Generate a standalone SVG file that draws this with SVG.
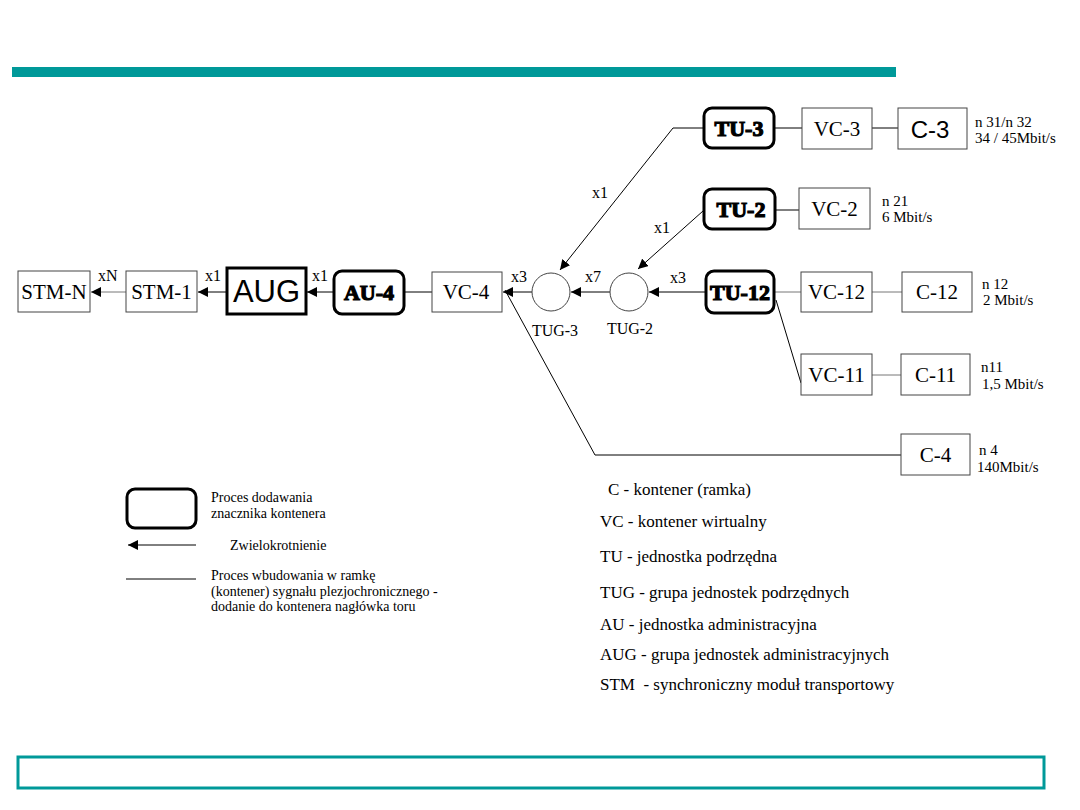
<svg xmlns="http://www.w3.org/2000/svg" width="1080" height="810" viewBox="0 0 1080 810">
<defs>
<style>
.box{fill:#fff;stroke:#444;stroke-width:1}
.thick{fill:#fff;stroke:#000;stroke-width:3}
.tu{fill:#fff;stroke:#000;stroke-width:3}
.lbl{font-family:"Liberation Serif",serif;font-size:21px;fill:#000;text-anchor:middle}
.heavy{font-family:"Liberation Serif",serif;font-weight:bold;font-size:22px;fill:#000;stroke:#000;stroke-width:1.2;text-anchor:middle}
.sm{font-family:"Liberation Serif",serif;font-size:16px;fill:#000}
.leg2{font-family:"Liberation Serif",serif;font-size:14px;fill:#000}
.note{font-family:"Liberation Serif",serif;font-size:15px;fill:#000}
.leg{font-family:"Liberation Serif",serif;font-size:17px;fill:#000}
.con{fill:none;stroke:#000;stroke-width:1}
.grey{fill:none;stroke:#777;stroke-width:1}
</style>
<marker id="ah" viewBox="0 0 10 10" refX="10" refY="5" markerWidth="10" markerHeight="10" markerUnits="userSpaceOnUse" orient="auto">
<path d="M0,0 L10,5 L0,10 z" fill="#000"/>
</marker>
</defs>
<rect width="1080" height="810" fill="#fff"/>
<rect x="12" y="67" width="884" height="10" fill="#009999"/>
<rect x="18" y="757" width="1026" height="31" fill="none" stroke="#009999" stroke-width="3"/>

<g id="connectors">
<line class="grey" x1="126" y1="292" x2="91" y2="292" marker-end="url(#ah)"/>
<line class="con" x1="226" y1="292" x2="198" y2="292" marker-end="url(#ah)"/>
<line class="con" x1="333" y1="292" x2="307" y2="292" marker-end="url(#ah)"/>
<line class="con" x1="404" y1="292" x2="432" y2="292"/>
<line class="con" x1="532" y1="292" x2="503" y2="292" marker-end="url(#ah)"/>
<line class="con" x1="610" y1="292" x2="571" y2="292" marker-end="url(#ah)"/>
<line class="con" x1="705" y1="292" x2="649" y2="292" marker-end="url(#ah)"/>
<polyline class="con" points="703,128 673,128 560,270" marker-end="url(#ah)"/>
<line class="con" x1="703" y1="211" x2="638" y2="269" marker-end="url(#ah)"/>
<line class="con" x1="774" y1="128" x2="802" y2="128"/>
<line class="con" x1="872" y1="128" x2="898" y2="128"/>
<line class="con" x1="775" y1="210" x2="799" y2="210"/>
<line class="grey" x1="774" y1="292" x2="801" y2="292"/>
<line class="grey" x1="872" y1="292" x2="902" y2="292"/>
<line class="con" x1="776" y1="300" x2="801" y2="383"/>
<line class="grey" x1="872" y1="375" x2="901" y2="375"/>
<polyline class="con" points="505,290 595,455 901,455"/>
<text class="sm" x="98" y="281">xN</text>
<text class="sm" x="205" y="281">x1</text>
<text class="sm" x="312" y="281">x1</text>
<text class="sm" x="511" y="282">x3</text>
<text class="sm" x="585" y="282">x7</text>
<text class="sm" x="670" y="283">x3</text>
<text class="sm" x="592" y="198">x1</text>
<text class="sm" x="654" y="233">x1</text>
</g>

<g id="stm-n"><rect class="box" x="18" y="271" width="72" height="41"/><text class="lbl" x="54" y="299">STM-N</text></g>
<g id="stm-1"><rect class="box" x="126" y="271" width="71" height="41"/><text class="lbl" x="161.5" y="299">STM-1</text></g>
<g id="aug"><rect class="thick" x="227" y="268" width="79" height="46"/><text x="266.5" y="302" font-family="Liberation Sans, sans-serif" font-size="31" text-anchor="middle">AUG</text></g>
<g id="au-4"><rect class="tu" x="334" y="271" width="70" height="43" rx="8"/><text class="heavy" x="369" y="300">AU-4</text></g>
<g id="vc-4"><rect class="box" x="432" y="272" width="70" height="40"/><text class="lbl" x="466" y="299">VC-4</text></g>
<g id="tug-3"><circle cx="551" cy="292" r="19" fill="#fff" stroke="#444"/><text class="sm" x="555" y="336" text-anchor="middle">TUG-3</text></g>
<g id="tug-2"><circle cx="629" cy="292" r="19" fill="#fff" stroke="#444"/><text class="sm" x="630" y="334" text-anchor="middle">TUG-2</text></g>
<g id="tu-12"><rect class="tu" x="706" y="271" width="68" height="42" rx="8"/><text class="heavy" x="740" y="300">TU-12</text></g>
<g id="vc-12"><rect class="box" x="801" y="272" width="71" height="40"/><text class="lbl" x="836.5" y="299">VC-12</text></g>
<g id="c-12"><rect class="box" x="902" y="272" width="70" height="40"/><text class="lbl" x="937" y="299">C-12</text></g>
<g id="tu-3"><rect class="tu" x="704" y="108" width="70" height="40" rx="8"/><text class="heavy" x="739" y="136">TU-3</text></g>
<g id="vc-3"><rect class="box" x="802" y="108" width="70" height="41"/><text class="lbl" x="837" y="136">VC-3</text></g>
<g id="c-3"><rect class="box" x="898" y="108" width="69" height="41"/><text x="930" y="138" font-family="Liberation Sans, sans-serif" font-size="24" text-anchor="middle">C-3</text></g>
<g id="tu-2"><rect class="tu" x="704" y="189" width="71" height="40" rx="8"/><text class="heavy" x="741" y="217">TU-2</text></g>
<g id="vc-2"><rect class="box" x="799" y="188" width="71" height="41"/><text class="lbl" x="834.5" y="216">VC-2</text></g>
<g id="vc-11"><rect class="box" x="801" y="354" width="71" height="41"/><text class="lbl" x="836.5" y="382">VC-11</text></g>
<g id="c-11"><rect class="box" x="901" y="354" width="69" height="41"/><text class="lbl" x="935.5" y="382">C-11</text></g>
<g id="c-4"><rect class="box" x="901" y="434" width="69" height="41"/><text class="lbl" x="935.5" y="462">C-4</text></g>

<g id="rates">
<text class="note" x="975" y="127">n 31/n 32</text>
<text class="note" x="975" y="143">34 / 45Mbit/s</text>
<text class="note" x="882" y="206">n 21</text>
<text class="note" x="882" y="222">6 Mbit/s</text>
<text class="note" x="982" y="289">n 12</text>
<text class="note" x="983" y="305">2 Mbit/s</text>
<text class="note" x="981" y="372">n11</text>
<text class="note" x="982" y="389">1,5 Mbit/s</text>
<text class="note" x="979" y="455">n 4</text>
<text class="note" x="977" y="472">140Mbit/s</text>
</g>

<g id="legend-symbols">
<rect class="tu" x="127" y="489" width="69" height="39" rx="8"/>
<text class="leg2" x="211" y="502">Proces dodawania</text>
<text class="leg2" x="211" y="518">znacznika kontenera</text>
<line class="con" x1="196" y1="545" x2="128" y2="545" marker-end="url(#ah)"/>
<text class="leg2" x="230" y="550">Zwielokrotnienie</text>
<line class="con" x1="126" y1="579" x2="196" y2="579"/>
<text class="leg2" x="211" y="580">Proces wbudowania w ramkę</text>
<text class="leg2" x="211" y="596">(kontener) sygnału plezjochronicznego -</text>
<text class="leg2" x="211" y="611">dodanie do kontenera nagłówka toru</text>
</g>

<g id="legend-abbrev">
<text class="leg" x="608" y="495">C - kontener (ramka)</text>
<text class="leg" x="600" y="527">VC - kontener wirtualny</text>
<text class="leg" x="600" y="562">TU - jednostka podrzędna</text>
<text class="leg" x="600" y="598">TUG - grupa jednostek podrzędnych</text>
<text class="leg" x="600" y="630">AU - jednostka administracyjna</text>
<text class="leg" x="600" y="660">AUG - grupa jednostek administracyjnych</text>
<text class="leg" x="600" y="690" xml:space="preserve">STM  - synchroniczny moduł transportowy</text>
</g>
</svg>
